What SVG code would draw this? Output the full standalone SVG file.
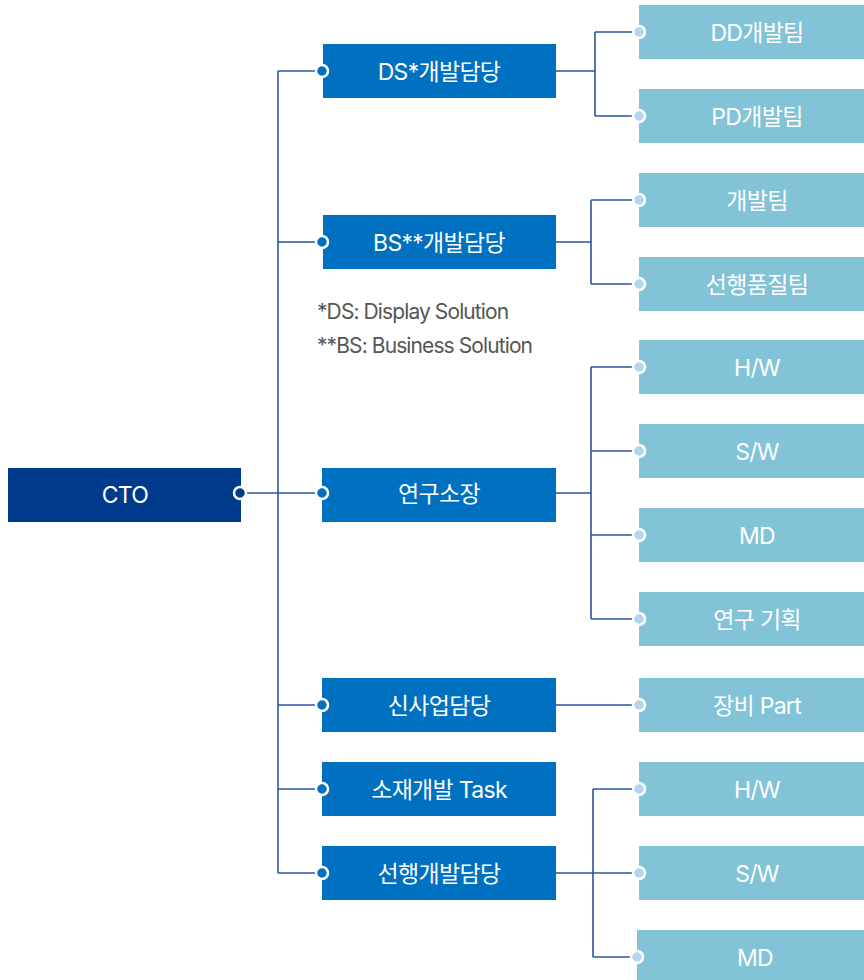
<svg xmlns="http://www.w3.org/2000/svg" width="864" height="980" viewBox="0 0 864 980">
<style>
.cto{fill:#003a8c}
.l2{fill:#0070c0}
.l3{fill:#82c3d8}
.t{font-family:Inter,"Noto Sans CJK KR",sans-serif;font-size:23px;font-weight:400;fill:#fff;text-anchor:middle;dominant-baseline:central;letter-spacing:-0.7px}
.note{font-family:Inter,"Noto Sans CJK KR",sans-serif;font-size:21px;font-weight:400;fill:#555;letter-spacing:-0.9px}
.ln{fill:none;stroke:#2b53a0;stroke-width:1.6}
.d1{fill:#003a8c;stroke:#fff;stroke-width:2.5}
.d2{fill:#0070c0;stroke:#fff;stroke-width:2.5}
.d3{fill:#b5d5ee;stroke:#fff;stroke-width:2.5}
</style>
<g id="connectors">
<path class="ln" d="M240 493H322M278 71V873M278 71H322M278 242H322M278 705H322M278 789H322M278 873H322"/>
<path class="ln" d="M556 71H595M595 32V116M595 32H639M595 116H639"/>
<path class="ln" d="M556 242H591M591 200V284M591 200H639M591 284H639"/>
<path class="ln" d="M556 493H591M591 367V619M591 367H639M591 451H639M591 535H639M591 619H639"/>
<path class="ln" d="M556 705H639"/>
<path class="ln" d="M556 873H639M593 789V957M593 789H639M593 957H639"/>
</g>
<g id="cto"><rect class="cto" x="8" y="468" width="233" height="54"/><text class="t" x="125" y="495">CTO</text><circle class="d1" cx="240" cy="493" r="6"/></g>
<g id="ds"><rect class="l2" x="323" y="44" width="233" height="54"/><text class="t" x="439" y="71.5">DS*개발담당</text><circle class="d2" cx="322" cy="71" r="6"/></g>
<g id="bs"><rect class="l2" x="323" y="215" width="233" height="54"/><text class="t" x="439" y="242.5">BS**개발담당</text><circle class="d2" cx="322" cy="242" r="6"/></g>
<g id="lab"><rect class="l2" x="322" y="468" width="234" height="54"/><text class="t" x="439" y="493.5">연구소장</text><circle class="d2" cx="322" cy="493" r="6"/></g>
<g id="newbiz"><rect class="l2" x="322" y="678" width="234" height="54"/><text class="t" x="439" y="705.5">신사업담당</text><circle class="d2" cx="322" cy="705" r="6"/></g>
<g id="material"><rect class="l2" x="322" y="762" width="234" height="54"/><text class="t" x="439" y="789.5">소재개발 Task</text><circle class="d2" cx="322" cy="789" r="6"/></g>
<g id="advdev"><rect class="l2" x="322" y="846" width="234" height="54"/><text class="t" x="439" y="873.5">선행개발담당</text><circle class="d2" cx="322" cy="873" r="6"/></g>
<g id="notes"><text class="note" x="317" y="319">*DS: Display Solution</text><text class="note" x="317" y="353">**BS: Business Solution</text></g>
<g id="dd"><rect class="l3" x="639" y="5" width="225" height="54"/><text class="t" x="757" y="32.5">DD개발팀</text><circle class="d3" cx="639" cy="32" r="6"/></g>
<g id="pd"><rect class="l3" x="639" y="89" width="225" height="54"/><text class="t" x="757" y="116.5">PD개발팀</text><circle class="d3" cx="639" cy="116" r="6"/></g>
<g id="devteam"><rect class="l3" x="639" y="173" width="225" height="54"/><text class="t" x="757" y="200.5">개발팀</text><circle class="d3" cx="639" cy="200" r="6"/></g>
<g id="quality"><rect class="l3" x="639" y="257" width="225" height="54"/><text class="t" x="757" y="284.5">선행품질팀</text><circle class="d3" cx="639" cy="284" r="6"/></g>
<g id="hw1"><rect class="l3" x="639" y="340" width="225" height="54"/><text class="t" x="757" y="367.5">H/W</text><circle class="d3" cx="639" cy="367" r="6"/></g>
<g id="sw1"><rect class="l3" x="639" y="424" width="225" height="54"/><text class="t" x="757" y="451.5">S/W</text><circle class="d3" cx="639" cy="451" r="6"/></g>
<g id="md1"><rect class="l3" x="639" y="508" width="225" height="54"/><text class="t" x="757" y="535.5">MD</text><circle class="d3" cx="639" cy="535" r="6"/></g>
<g id="plan"><rect class="l3" x="639" y="592" width="225" height="54"/><text class="t" x="757" y="619.5">연구 기획</text><circle class="d3" cx="639" cy="619" r="6"/></g>
<g id="equip"><rect class="l3" x="639" y="678" width="225" height="54"/><text class="t" x="757" y="705.5">장비 Part</text><circle class="d3" cx="639" cy="705" r="6"/></g>
<g id="hw2"><rect class="l3" x="639" y="762" width="225" height="54"/><text class="t" x="757" y="789.5">H/W</text><circle class="d3" cx="639" cy="789" r="6"/></g>
<g id="sw2"><rect class="l3" x="639" y="846" width="225" height="54"/><text class="t" x="757" y="873.5">S/W</text><circle class="d3" cx="639" cy="873" r="6"/></g>
<g id="md2"><rect class="l3" x="637" y="930" width="227" height="50"/><text class="t" x="755" y="957.5">MD</text><circle class="d3" cx="637" cy="957" r="6"/></g>
</svg>
